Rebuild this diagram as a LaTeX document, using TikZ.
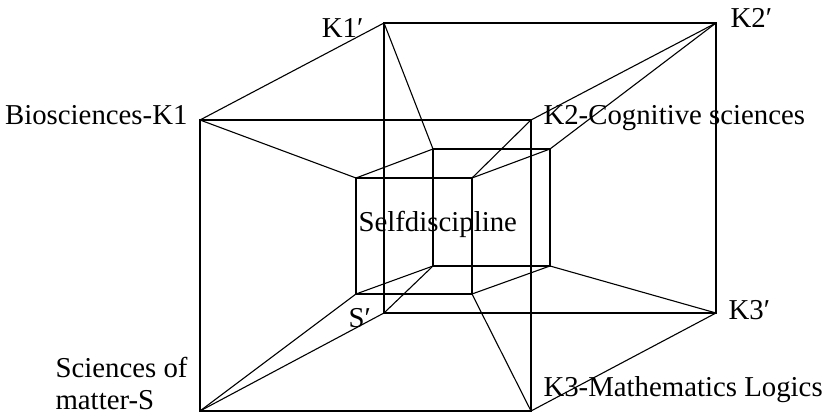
\documentclass[tikz,border=0pt]{standalone}
\usepackage{fontspec}
\setmainfont{Liberation Serif}
\begin{document}
\begin{tikzpicture}[x=0.5pt,y=-0.5pt,line width=0.55pt,
  lbl/.style={inner sep=0pt,font=\fontsize{14.4}{16}\selectfont}]
\useasboundingbox (0,0) rectangle (830,415);
% outer front cube face
\coordinate (K1) at (200,120);
\coordinate (K2) at (531,120);
\coordinate (K3) at (531,411);
\coordinate (S)  at (200,411);
% outer back face
\coordinate (K1p) at (384,23);
\coordinate (K2p) at (716,23);
\coordinate (K3p) at (716,313);
\coordinate (Sp)  at (384,313);
% inner front face
\coordinate (a1) at (356,178);
\coordinate (a2) at (472,178);
\coordinate (a3) at (472,294);
\coordinate (a4) at (356,294);
% inner back face
\coordinate (b1) at (433,149);
\coordinate (b2) at (550,149);
\coordinate (b3) at (550,266);
\coordinate (b4) at (433,266);
% faces
\draw (K1) -- (K2) -- (K3) -- (S) -- cycle;
\draw (K1p) -- (K2p) -- (K3p) -- (Sp) -- cycle;
\draw (a1) -- (a2) -- (a3) -- (a4) -- cycle;
\draw (b1) -- (b2) -- (b3) -- (b4) -- cycle;
% connectors
\draw (K1) -- (K1p) (K2) -- (K2p) (K3) -- (K3p) (S) -- (Sp);
\draw (K1) -- (a1) (K2) -- (a2) (K3) -- (a3) (S) -- (a4);
\draw (K1p) -- (b1) (K2p) -- (b2) (K3p) -- (b3) (Sp) -- (b4);
\draw (a1) -- (b1) (a2) -- (b2) (a3) -- (b3) (a4) -- (b4);
% labels
\node[lbl,anchor=base east] (lK1) at (188,125) {Biosciences-K1};
\node[lbl,anchor=base east] (lK1p) at (364,38) {K1′};
\node[lbl,anchor=base west] (lK2p) at (730,28) {K2′};
\node[lbl,anchor=base west] (lK2) at (543,125) {K2-Cognitive sciences};
\node[lbl,anchor=base west] (lSd) at (358,232) {Selfdiscipline};
\node[lbl,anchor=base west] (lSp) at (348,328) {S′};
\node[lbl,anchor=base west] (lK3p) at (728,320) {K3′};
\node[lbl,anchor=base west] (lK3) at (543,397) {K3-Mathematics Logics};
\node[lbl,anchor=base west] (lS1) at (55,378) {Sciences of};
\node[lbl,anchor=base west] (lS2) at (55,410) {matter-S};
\end{tikzpicture}
\end{document}
